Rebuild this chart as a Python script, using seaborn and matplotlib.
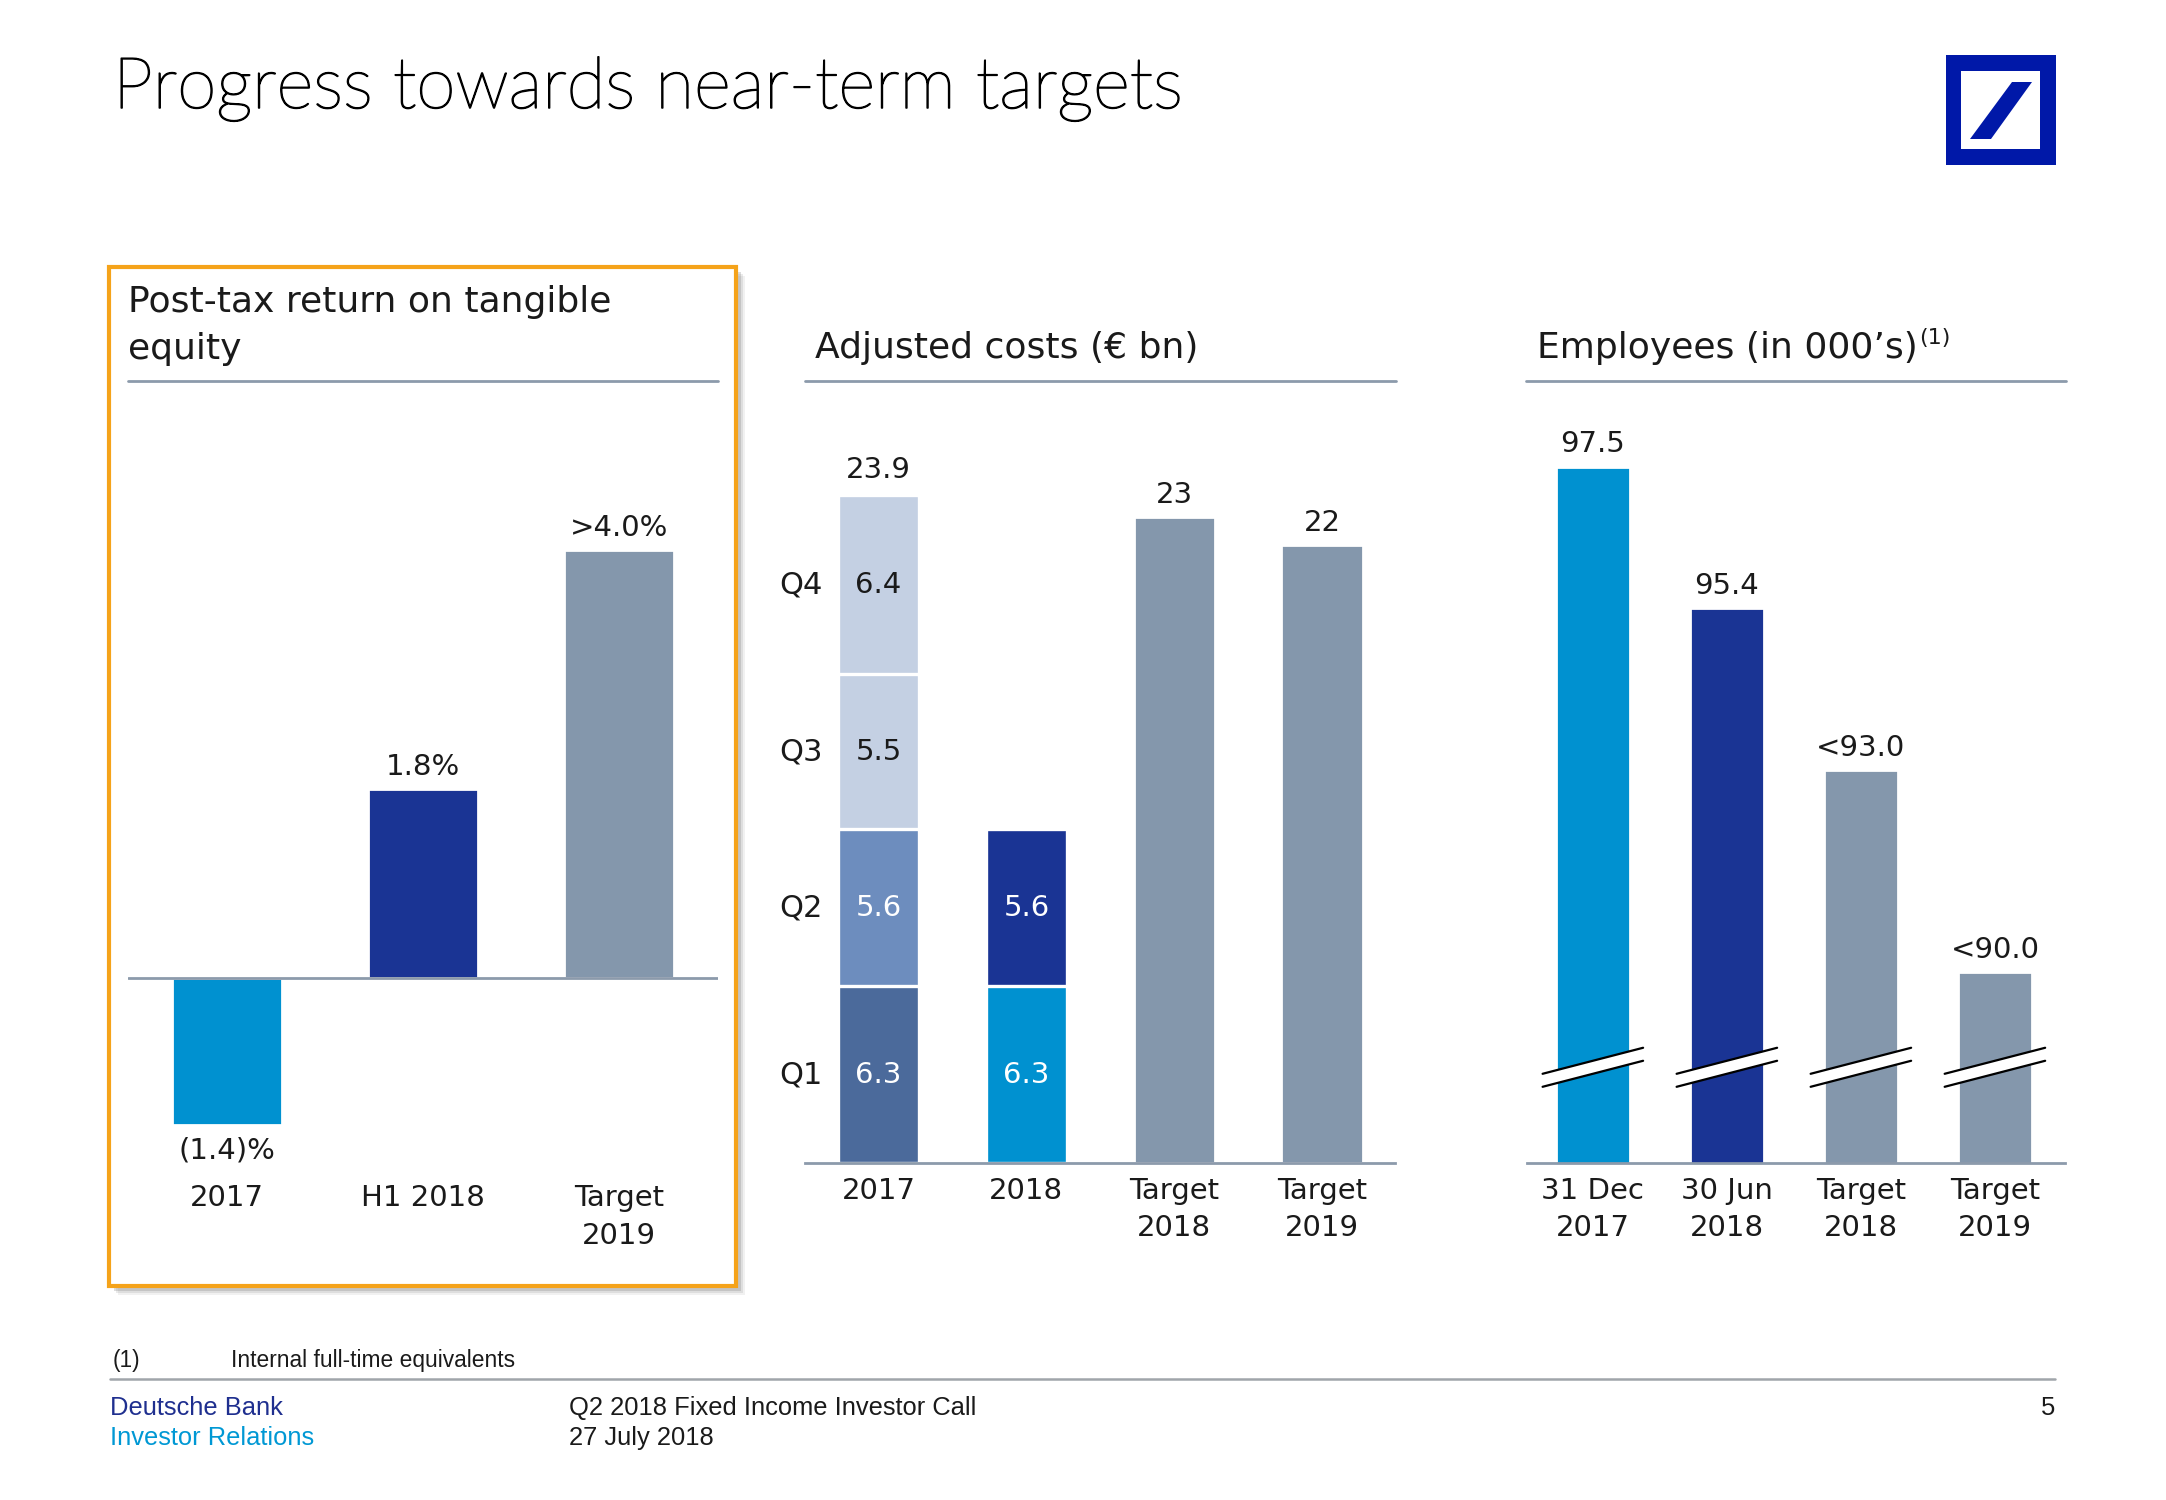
import matplotlib
matplotlib.use("Agg")
import matplotlib.pyplot as plt
import matplotlib.patheffects as pe
import seaborn as sns
import pandas as pd
import numpy as np
from matplotlib.patches import Rectangle, Polygon
from matplotlib.lines import Line2D

# ---------------- data ----------------
roe_categories = ["2017", "H1 2018", "Target\n2019"]
roe_values = [-1.4, 1.8, 4.07]
roe_labels = ["(1.4)%", "1.8%", ">4.0%"]

cost_categories = ["2017", "2018", "Target\n2018", "Target\n2019"]
quarters = ["Q1", "Q2", "Q3", "Q4"]
cost_q1 = [6.3, 6.3, None, None]
cost_q2 = [5.6, 5.6, None, None]
cost_q3 = [5.5, None, None, None]
cost_q4 = [6.4, None, None, None]
cost_targets = [None, None, 23.0, 22.0]
cost_total_labels = ["23.9", None, "23", "22"]

emp_categories = ["31 Dec\n2017", "30 Jun\n2018", "Target\n2018", "Target\n2019"]
emp_values = [97.5, 95.4, 93.0, 90.0]
emp_labels = ["97.5", "95.4", "<93.0", "<90.0"]

# ---------------- style ----------------
CYAN = "#0091D0"
NAVY = "#1A3494"
GREY = "#8497AC"
Q1_17 = "#4B6A9B"
Q2_17 = "#6D8DBE"
LIGHT = "#C4D0E3"
RULE = "#8C9AAB"
TXT = "#1A1A1A"

roe_colors = [CYAN, NAVY, GREY]
emp_colors = [CYAN, NAVY, GREY, GREY]
seg_colors = {
    "Q1": [Q1_17, CYAN, GREY, GREY],
    "Q2": [Q2_17, NAVY, GREY, GREY],
    "Q3": [LIGHT, GREY, GREY, GREY],
    "Q4": [LIGHT, GREY, GREY, GREY],
}
seg_text = {
    "Q1": ["white", "white"],
    "Q2": ["white", "white"],
    "Q3": [TXT, TXT],
    "Q4": [TXT, TXT],
}

sns.set_style("white")
plt.rcParams["font.family"] = ["DejaVu Sans"]

W, H = 2166, 1500
fig = plt.figure(figsize=(W / 200, H / 200), dpi=200)


def rect_px(x0, y0, x1, y1):
    return [x0 / W, 1 - y1 / H, (x1 - x0) / W, (y1 - y0) / H]


def fxy(x, y):
    return x / W, 1 - y / H


LBL = 10.5
OFF = 3

# ---------------- title & logo ----------------
fig.text(*fxy(113, 108), "Progress towards near-term targets", fontsize=25.6,
         family=["Lato", "DejaVu Sans"], fontweight="light", va="baseline", color="black",
         path_effects=[pe.withStroke(linewidth=0.55, foreground="black")])

LOGO = "#0018A8"
fig.add_artist(Rectangle(fxy(1946, 165), 110 / W, 110 / H, transform=fig.transFigure,
                         facecolor=LOGO, edgecolor="none", zorder=3))
fig.add_artist(Rectangle(fxy(1961, 149), 79 / W, 78 / H, transform=fig.transFigure,
                         facecolor="white", edgecolor="none", zorder=3))
slash = [fxy(2012, 82), fxy(2032, 82), fxy(1991, 139), fxy(1970, 139)]
fig.add_artist(Polygon(slash, closed=True, transform=fig.transFigure,
                       facecolor=LOGO, edgecolor="none", zorder=4))

# ---------------- orange box ----------------
for k, a in [(9, 0.10), (7, 0.15), (5, 0.25)]:
    fig.add_artist(Rectangle(fxy(109 + k, 1286 + k), 627 / W, 1019 / H,
                             transform=fig.transFigure, facecolor="#777777",
                             edgecolor="none", alpha=a, zorder=-3))
fig.add_artist(Rectangle(fxy(109, 1286), 627 / W, 1019 / H, transform=fig.transFigure,
                         facecolor="white", edgecolor="#F5A31A", linewidth=1.5, zorder=-2))

# ---------------- panel titles & rules ----------------
fig.text(*fxy(128, 302), "Post-tax return on tangible", fontsize=13, va="center", color=TXT)
fig.text(*fxy(128, 349), "equity", fontsize=13, va="center", color=TXT)
fig.text(*fxy(815, 348), "Adjusted costs (€ bn)", fontsize=13, va="center", color=TXT)
emp_title = fig.text(*fxy(1537, 348), "Employees (in 000’s)", fontsize=13, va="center", color=TXT)
for x0, x1 in [(128, 718), (805, 1396), (1526, 2066)]:
    fig.add_artist(Line2D([x0 / W, x1 / W], [1 - 381 / H] * 2, transform=fig.transFigure,
                          color=RULE, linewidth=1.0))

# ---------------- left panel: RoTE ----------------
ax1 = fig.add_axes(rect_px(128, 452.5, 718, 1183))
ax1.patch.set_alpha(0)
df1 = pd.DataFrame({"cat": roe_categories, "val": roe_values})
sns.barplot(data=df1, x="cat", y="val", hue="cat", order=roe_categories,
            hue_order=roe_categories, palette=roe_colors, saturation=1,
            width=0.557, legend=False, ax=ax1)
ax1.axhline(0, color=RULE, linewidth=1.0, zorder=10)
for i, (v, lab) in enumerate(zip(roe_values, roe_labels)):
    if v >= 0:
        ax1.annotate(lab, (i, v), xytext=(0, OFF), textcoords="offset points",
                     ha="center", va="bottom", fontsize=LBL, color=TXT)
    else:
        ax1.annotate(lab, (i, v), xytext=(0, -4), textcoords="offset points",
                     ha="center", va="top", fontsize=LBL, color=TXT)
ax1.set_xlim(-0.505, 2.505)
ax1.set_ylim(-1.95, 5.0)

# ---------------- middle panel: adjusted costs ----------------
ax2 = fig.add_axes(rect_px(805, 433, 1395, 1163))
ax2.patch.set_alpha(0)
q_vals = {"Q1": cost_q1, "Q2": cost_q2, "Q3": cost_q3, "Q4": cost_q4}
SEG_W = 0.55
cum = {}
running = [0.0] * len(cost_categories)
for q in quarters:
    vals = q_vals[q]
    c = []
    for j, v in enumerate(vals):
        if v is None:
            c.append(None)
        else:
            running[j] += v
            c.append(running[j])
    cum[q] = c
# draw top layers first so lower segments overlay them
for q in reversed(quarters):
    rows = [(cat, h, seg_colors[q][j]) for j, (cat, h) in enumerate(zip(cost_categories, cum[q]))
            if h is not None]
    d = pd.DataFrame(rows, columns=["cat", "h", "col"])
    sns.barplot(data=d, x="cat", y="h", hue="cat", order=cost_categories,
                palette=dict(zip(d["cat"], d["col"])), saturation=1, width=SEG_W,
                legend=False, edgecolor="white", linewidth=1.2, ax=ax2)
dt = pd.DataFrame([(c, v) for c, v in zip(cost_categories, cost_targets) if v is not None],
                  columns=["cat", "h"])
sns.barplot(data=dt, x="cat", y="h", hue="cat", order=cost_categories,
            palette={c: GREY for c in dt["cat"]}, saturation=1, width=SEG_W,
            legend=False, ax=ax2)
# segment labels
for j in range(len(cost_categories)):
    prev = 0.0
    for q in quarters:
        v = q_vals[q][j]
        if v is None:
            continue
        mid = prev + v / 2
        ax2.text(j, mid, f"{v:.1f}", ha="center", va="center", fontsize=LBL,
                 color=seg_text[q][j])
        if j == 0:
            ax2.annotate(q, (j - SEG_W / 2, mid), xytext=(-5.5, 0), textcoords="offset points",
                         ha="right", va="center", fontsize=11, color=TXT)
        prev += v
# totals
for j, lab in enumerate(cost_total_labels):
    if lab is None:
        continue
    top = cost_targets[j] if cost_targets[j] is not None else 23.9
    ax2.annotate(lab, (j, top), xytext=(0, OFF), textcoords="offset points",
                 ha="center", va="bottom", fontsize=LBL, color=TXT)
ax2.set_xlim(-0.498, 3.494)
ax2.set_ylim(0, 26)

# ---------------- right panel: employees ----------------
ax3 = fig.add_axes(rect_px(1526.5, 433, 2065, 1163))
ax3.patch.set_alpha(0)
df3 = pd.DataFrame({"cat": emp_categories, "val": emp_values})
EMP_W = 0.557
sns.barplot(data=df3, x="cat", y="val", hue="cat", order=emp_categories,
            hue_order=emp_categories, palette=emp_colors, saturation=1,
            width=EMP_W, legend=False, ax=ax3)
for i, (v, lab) in enumerate(zip(emp_values, emp_labels)):
    ax3.annotate(lab, (i, v), xytext=(0, OFF), textcoords="offset points",
                 ha="center", va="bottom", fontsize=LBL, color=TXT)
# axis-break marks
yb, rise, gap, half = 88.59, 0.386, 0.193, 0.375
for i in range(len(emp_values)):
    xl, xr = i - half, i + half
    ylo_l, ylo_r = yb - rise / 2 - gap / 2, yb + rise / 2 - gap / 2
    yhi_l, yhi_r = ylo_l + gap, ylo_r + gap
    ax3.add_patch(Polygon([(xl, ylo_l), (xr, ylo_r), (xr, yhi_r), (xl, yhi_l)],
                          closed=True, facecolor="white", edgecolor="none", zorder=5,
                          clip_on=False))
    ax3.plot([xl, xr], [ylo_l, ylo_r], color="black", linewidth=0.8, zorder=6, clip_on=False)
    ax3.plot([xl, xr], [yhi_l, yhi_r], color="black", linewidth=0.8, zorder=6, clip_on=False)
ax3.set_xlim(-0.495, 3.523)
ax3.set_ylim(87.17, 98.0)

# ---------------- axes cosmetics ----------------
for ax, cats, pad in [(ax1, roe_categories, 0.5), (ax2, cost_categories, 5.0),
                      (ax3, emp_categories, 5.0)]:
    ax.set_xlabel("")
    ax.set_ylabel("")
    ax.set_yticks([])
    ax.set_xticks(range(len(cats)))
    ax.set_xticklabels(cats, fontsize=LBL, color=TXT, linespacing=1.42)
    ax.tick_params(axis="x", length=0, pad=pad)
    for s in ["top", "left", "right", "bottom"]:
        ax.spines[s].set_visible(False)
for ax in (ax2, ax3):
    ax.spines["bottom"].set_visible(True)
    ax.spines["bottom"].set_color(RULE)
    ax.spines["bottom"].set_linewidth(1.0)

# superscript on employees title
fig.canvas.draw()
bb = emp_title.get_window_extent()
fig.text((bb.x1 + 1) / W, 1 - 338 / H, "(1)", fontsize=8, va="center", color=TXT)

# ---------------- footer ----------------
FOOT = ["Liberation Sans", "DejaVu Sans"]
fig.text(*fxy(113, 1361), "(1)", fontsize=8.2, family=FOOT, va="center", color=TXT)
fig.text(*fxy(231, 1361), "Internal full-time equivalents", fontsize=8.2, family=FOOT,
         va="center", color=TXT)
fig.add_artist(Line2D([110 / W, 2055 / W], [1 - 1379 / H] * 2, transform=fig.transFigure,
                      color="#A0A5AA", linewidth=0.9))
fig.text(*fxy(110, 1408), "Deutsche Bank", fontsize=9.2, family=FOOT, va="center", color="#1F2F8F")
fig.text(*fxy(110, 1438), "Investor Relations", fontsize=9.2, family=FOOT, va="center", color="#0098D4")
fig.text(*fxy(569, 1408), "Q2 2018 Fixed Income Investor Call", fontsize=9.2, family=FOOT,
         va="center", color=TXT)
fig.text(*fxy(569, 1438), "27 July 2018", fontsize=9.2, family=FOOT, va="center", color=TXT)
fig.text(*fxy(2055, 1408), "5", fontsize=9.2, family=FOOT, va="center", ha="right", color=TXT)

fig.savefig("out.png", dpi=200, facecolor="white")
